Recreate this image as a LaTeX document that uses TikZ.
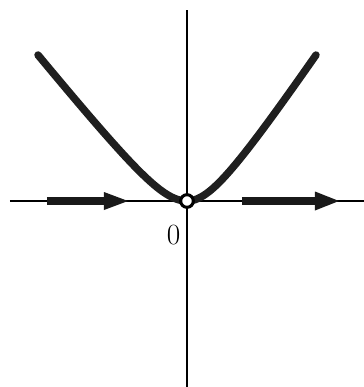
\documentclass[tikz,border=0pt]{standalone}
\begin{document}
\begin{tikzpicture}[x=0.75pt,y=-0.75pt,
  axis/.style={line width=1.5pt},
  curve/.style={line width=5.6pt,line cap=round,line join=round,color=black!88},
  shaft/.style={line width=5.4pt,color=black!90},
  head/.style={fill=black!90,draw=none}]
\useasboundingbox (0,0) rectangle (364,387);
\coordinate (o) at (187,201);
\coordinate (xl) at (10,201);
\coordinate (xr) at (364,201);
\coordinate (yt) at (187,10);
\coordinate (yb) at (187,387);
\draw[axis] (xl) -- (xr);
\draw[axis] (yt) -- (yb);
\draw[curve] plot[domain=-149:0,samples=90,smooth] ({187+\x},{201-12.37*(sqrt((\x/10)^2+12.25)-3.5)})
  -- plot[domain=0:129,samples=80,smooth] ({187+\x},{201-14.8*(sqrt((\x/10)^2+12.25)-3.5)});
% left arrow
\coordinate (a1) at (47,201);
\coordinate (a2) at (106,201);
\draw[shaft] (a1) -- (a2);
\fill[head] (104,192) -- (128,201) -- (104,210) -- cycle;
% right arrow
\coordinate (b1) at (242,201);
\coordinate (b2) at (317,201);
\draw[shaft] (b1) -- (b2);
\fill[head] (315,191.5) -- (339,201) -- (315,210.5) -- cycle;
% origin circle
\node[circle,draw,fill=white,line width=2.3pt,inner sep=0pt,minimum size=9.5pt] (oc) at (o) {};
\node[font=\fontsize{22}{26}\selectfont,inner sep=0pt] (zero) at (173.5,235.5) {0};
\end{tikzpicture}
\end{document}
